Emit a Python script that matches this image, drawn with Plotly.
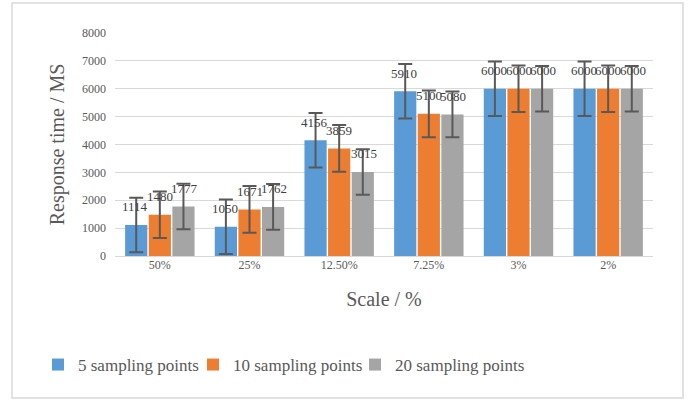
import plotly.graph_objects as go

categories = ["50%", "25%", "12.50%", "7.25%", "3%", "2%"]
series_names = ["5 sampling points", "10 sampling points", "20 sampling points"]
s5 = [1114, 1050, 4156, 5910, 6000, 6000]
s10 = [1480, 1671, 3859, 5100, 6000, 6000]
s20 = [1777, 1762, 3015, 5080, 6000, 6000]
err5 = [978, 978, 978, 978, 978, 978]
err10 = [837, 837, 837, 837, 837, 837]
err20 = [818, 818, 818, 818, 818, 818]
colors = ["#5B9BD5", "#ED7D31", "#A5A5A5"]
y_ticks = [0, 1000, 2000, 3000, 4000, 5000, 6000, 7000, 8000]

FONT = "Liberation Serif"

L, R, T, B = 115, 653, 33, 256
W, H = R - L, B - T

fig = go.Figure()
all_series = [s5, s10, s20]
all_err = [err5, err10, err20]
legend_ids = ["legend", "legend2", "legend3"]
for name, vals, errs, col, lg in zip(series_names, all_series, all_err, colors, legend_ids):
    fig.add_trace(go.Bar(
        x=categories, y=vals, name=name, legend=lg,
        marker=dict(color=col, line=dict(width=0)),
        error_y=dict(type="data", array=errs, visible=True,
                     color="#595959", thickness=2, width=7),
    ))

# data labels above bars
offsets = [-0.272, 0.0, 0.272]
for k, vals in enumerate(all_series):
    for i, v in enumerate(vals):
        fig.add_annotation(x=i + offsets[k], y=v, text=str(v), showarrow=False,
                           yshift=18, font=dict(family=FONT, size=13, color="#404040"))

# chart border
fig.add_shape(type="rect", xref="paper", yref="paper",
              x0=(12 - L) / W, x1=(683 - L) / W,
              y0=(B - 398) / H, y1=(B - 3) / H,
              line=dict(color="#D9D9D9", width=1.5), layer="below")

def leg(text_x):
    return dict(orientation="h", x=(text_x - 38 - L) / W, xanchor="left",
                y=(B - 365) / H, yanchor="middle", bgcolor="rgba(0,0,0,0)",
                font=dict(family=FONT, size=17, color="#595959"))

fig.update_layout(
    width=693, height=400,
    margin=dict(l=L, r=693 - R, t=T, b=400 - B, autoexpand=False),
    paper_bgcolor="white", plot_bgcolor="white",
    barmode="group", bargap=0.21, bargroupgap=0.06,
    font=dict(family=FONT, color="#595959"),
    showlegend=True,
    legend=leg(76), legend2=leg(231), legend3=leg(393),
    xaxis=dict(type="category", showgrid=False, showline=False, ticks="",
               tickfont=dict(family=FONT, size=12, color="#595959"),
               title=dict(text="Scale / %", font=dict(family=FONT, size=20, color="#595959"), standoff=20)),
    yaxis=dict(range=[0, 8000], tickvals=y_ticks, showgrid=True, gridcolor="#D9D9D9",
               gridwidth=1, zeroline=True, zerolinecolor="#D9D9D9", zerolinewidth=1,
               showline=False, ticks="", ticklabelstandoff=8,
               tickfont=dict(family=FONT, size=12, color="#595959"),
               title=dict(text="Response time / MS", font=dict(family=FONT, size=20, color="#595959"), standoff=12)),
)

fig.write_html("out.html", post_script="document.body.style.margin='0';",
               config={"displayModeBar": False})
